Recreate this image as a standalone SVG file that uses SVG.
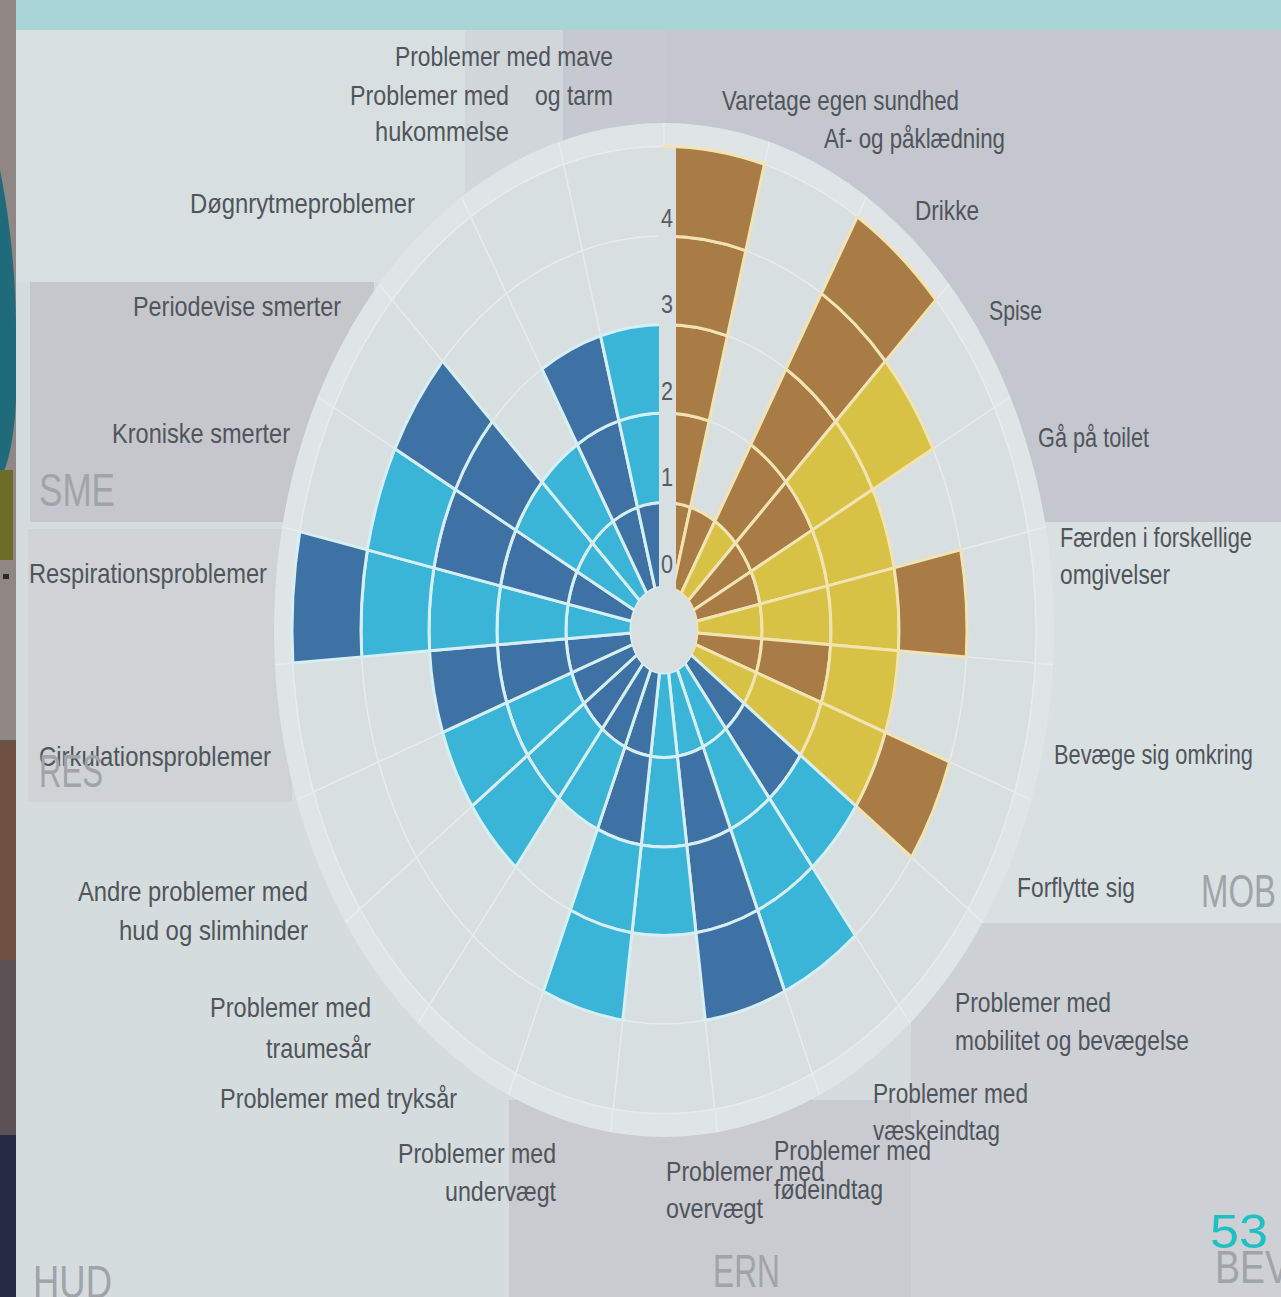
<svg xmlns="http://www.w3.org/2000/svg" width="1281" height="1297" viewBox="0 0 1281 1297">
<style>
  .lbl { font-family: "Liberation Sans", Arial, sans-serif; font-size: 28px; fill: #50555b; }
  .zone { font-family: "Liberation Sans", Arial, sans-serif; font-size: 47px; fill: #a0a4a9; }
  .ax { font-family: "Liberation Sans", Arial, sans-serif; font-size: 25px; fill: #575c62; }
  .B { fill: #a97b45; stroke: #f2e3b3; }
  .Y { fill: #d8c245; stroke: #f2e3b3; }
  .D { fill: #3e72a5; stroke: #d6eff5; }
  .L { fill: #3ab5d8; stroke: #d6eff5; }
  .grid { fill: none; stroke: #e7ecec; stroke-width: 1.5; }
</style>
<defs>
  <path id="c1" vector-effect="non-scaling-stroke" d="M0,-33 L0,-98 A98,98 0 0 1 26.44,-94.37 L8.9,-31.78 A33,33 0 0 0 0,-33Z"/>
  <path id="c2" vector-effect="non-scaling-stroke" d="M0,-98 L0,-167 A167,167 0 0 1 45.06,-160.81 L26.44,-94.37 A98,98 0 0 0 0,-98Z"/>
  <path id="c3" vector-effect="non-scaling-stroke" d="M0,-167 L0,-235 A235,235 0 0 1 63.4,-226.29 L45.06,-160.81 A167,167 0 0 0 0,-167Z"/>
  <path id="c4" vector-effect="non-scaling-stroke" d="M0,-235 L0,-303 A303,303 0 0 1 81.75,-291.76 L63.4,-226.29 A235,235 0 0 0 0,-235Z"/>
  <path id="c5" vector-effect="non-scaling-stroke" d="M0,-303 L0,-372 A372,372 0 0 1 100.36,-358.21 L81.75,-291.76 A303,303 0 0 0 0,-303Z"/>
  <line id="spk" x1="0" y1="-33" x2="0" y2="-390" vector-effect="non-scaling-stroke"/>
</defs>

<g id="background">
  <rect x="0" y="0" width="1281" height="1297" fill="#d5dcde"/>
  <rect x="16" y="0" width="1265" height="30" fill="#a8d3d7"/>
  <rect x="0" y="0" width="16" height="1297" fill="#8e8783"/>
  <path d="M0,170 C12,230 16,290 16,330 L16,400 C14,440 8,465 0,480 Z" fill="#1f6b7b"/>
  <rect x="0" y="470" width="13" height="90" fill="#6f6c2a"/>
  <rect x="3" y="574" width="6" height="5" fill="#2a2a2a"/>
  <rect x="0" y="740" width="16" height="220" fill="#6e5143"/>
  <rect x="0" y="960" width="16" height="175" fill="#5a5254"/>
  <rect x="0" y="1135" width="16" height="162" fill="#272a44"/>
</g>

<g id="zones">
  <rect x="16" y="30" width="449" height="252" fill="#d8dfe0"/>
  <rect x="465" y="30" width="98" height="400" fill="#d0d6d9"/>
  <rect x="563" y="30" width="103" height="400" fill="#c6cad0"/>
  <rect x="666" y="30" width="615" height="492" fill="#c4c7ce"/>
  <rect x="666" y="522" width="615" height="401" fill="#d9e0e2"/>
  <rect x="911" y="923" width="370" height="374" fill="#cdd0d5"/>
  <rect x="509" y="1100" width="402" height="197" fill="#c9cbd0"/>
  <rect x="30" y="282" width="344" height="240" fill="#c5c7cd"/>
  <rect x="28" y="529" width="264" height="273" fill="#cfd3d6"/>
</g>

<g id="chart" transform="translate(664 630) scale(1 1.3)">
  <circle r="390" fill="#dfe5e6"/>
  <circle r="372" fill="#d7dfe0"/>
  <g class="grid">
    <circle r="372" vector-effect="non-scaling-stroke"/>
    <circle r="303" vector-effect="non-scaling-stroke"/>
    <circle r="235" vector-effect="non-scaling-stroke"/>
    <circle r="167" vector-effect="non-scaling-stroke"/>
    <circle r="98" vector-effect="non-scaling-stroke"/>
    <use href="#spk" transform="rotate(0)"/>
    <use href="#spk" transform="rotate(15.652)"/>
    <use href="#spk" transform="rotate(31.304)"/>
    <use href="#spk" transform="rotate(46.957)"/>
    <use href="#spk" transform="rotate(62.609)"/>
    <use href="#spk" transform="rotate(78.261)"/>
    <use href="#spk" transform="rotate(93.913)"/>
    <use href="#spk" transform="rotate(109.565)"/>
    <use href="#spk" transform="rotate(125.217)"/>
    <use href="#spk" transform="rotate(140.870)"/>
    <use href="#spk" transform="rotate(156.522)"/>
    <use href="#spk" transform="rotate(172.174)"/>
    <use href="#spk" transform="rotate(187.826)"/>
    <use href="#spk" transform="rotate(203.478)"/>
    <use href="#spk" transform="rotate(219.130)"/>
    <use href="#spk" transform="rotate(234.783)"/>
    <use href="#spk" transform="rotate(250.435)"/>
    <use href="#spk" transform="rotate(266.087)"/>
    <use href="#spk" transform="rotate(281.739)"/>
    <use href="#spk" transform="rotate(297.391)"/>
    <use href="#spk" transform="rotate(313.043)"/>
    <use href="#spk" transform="rotate(328.696)"/>
    <use href="#spk" transform="rotate(344.348)"/>
  </g>
  <g id="bars" stroke-width="3" stroke-linejoin="round">
    <!-- S0 Varetage egen sundhed -->
    <use href="#c1" class="B"/><use href="#c2" class="B"/><use href="#c3" class="B"/><use href="#c4" class="B"/><use href="#c5" class="B"/>
    <!-- S1 Af- og paaklaedning -->
    <g transform="rotate(15.652)"><use href="#c1" class="B"/></g>
    <!-- S2 Drikke -->
    <g transform="rotate(31.304)"><use href="#c1" class="Y"/><use href="#c2" class="B"/><use href="#c3" class="B"/><use href="#c4" class="B"/><use href="#c5" class="B"/></g>
    <!-- S3 Spise -->
    <g transform="rotate(46.957)"><use href="#c1" class="B"/><use href="#c2" class="B"/><use href="#c3" class="Y"/><use href="#c4" class="Y"/></g>
    <!-- S4 Gaa paa toilet -->
    <g transform="rotate(62.609)"><use href="#c1" class="B"/><use href="#c2" class="Y"/><use href="#c3" class="Y"/></g>
    <!-- S5 Faerden -->
    <g transform="rotate(78.261)"><use href="#c1" class="Y"/><use href="#c2" class="Y"/><use href="#c3" class="Y"/><use href="#c4" class="B"/></g>
    <!-- S6 Bevaege sig omkring -->
    <g transform="rotate(93.913)"><use href="#c1" class="B"/><use href="#c2" class="B"/><use href="#c3" class="Y"/></g>
    <!-- S7 Forflytte sig -->
    <g transform="rotate(109.565)"><use href="#c1" class="Y"/><use href="#c2" class="Y"/><use href="#c3" class="Y"/><use href="#c4" class="B"/></g>
    <!-- S8 mobilitet -->
    <g transform="rotate(125.217)"><use href="#c1" class="D"/><use href="#c2" class="D"/><use href="#c3" class="L"/></g>
    <!-- S9 vaeskeindtag -->
    <g transform="rotate(140.870)"><use href="#c1" class="L"/><use href="#c2" class="L"/><use href="#c3" class="L"/><use href="#c4" class="L"/></g>
    <!-- S10 foedeindtag -->
    <g transform="rotate(156.522)"><use href="#c1" class="L"/><use href="#c2" class="D"/><use href="#c3" class="D"/><use href="#c4" class="D"/></g>
    <!-- S11 overvaegt -->
    <g transform="rotate(172.174)"><use href="#c1" class="L"/><use href="#c2" class="L"/><use href="#c3" class="L"/></g>
    <!-- S12 undervaegt -->
    <g transform="rotate(187.826)"><use href="#c1" class="D"/><use href="#c2" class="D"/><use href="#c3" class="L"/><use href="#c4" class="L"/></g>
    <!-- S13 tryksaar -->
    <g transform="rotate(203.478)"><use href="#c1" class="D"/><use href="#c2" class="L"/></g>
    <!-- S14 traumesaar -->
    <g transform="rotate(219.130)"><use href="#c1" class="D"/><use href="#c2" class="L"/><use href="#c3" class="L"/></g>
    <!-- S15 hud og slimhinder -->
    <g transform="rotate(234.783)"><use href="#c1" class="D"/><use href="#c2" class="L"/><use href="#c3" class="L"/></g>
    <!-- S16 Cirkulation -->
    <g transform="rotate(250.435)"><use href="#c1" class="D"/><use href="#c2" class="D"/><use href="#c3" class="D"/></g>
    <!-- S17 Respiration -->
    <g transform="rotate(266.087)"><use href="#c1" class="L"/><use href="#c2" class="L"/><use href="#c3" class="L"/><use href="#c4" class="L"/><use href="#c5" class="D"/></g>
    <!-- S18 Kroniske smerter -->
    <g transform="rotate(281.739)"><use href="#c1" class="D"/><use href="#c2" class="D"/><use href="#c3" class="D"/><use href="#c4" class="L"/></g>
    <!-- S19 Periodevise smerter -->
    <g transform="rotate(297.391)"><use href="#c1" class="L"/><use href="#c2" class="L"/><use href="#c3" class="D"/><use href="#c4" class="D"/></g>
    <!-- S20 Doegnrytme -->
    <g transform="rotate(313.043)"><use href="#c1" class="L"/><use href="#c2" class="L"/></g>
    <!-- S21 hukommelse -->
    <g transform="rotate(328.696)"><use href="#c1" class="D"/><use href="#c2" class="D"/><use href="#c3" class="D"/></g>
    <!-- S22 mave og tarm -->
    <g transform="rotate(344.348)"><use href="#c1" class="D"/><use href="#c2" class="L"/><use href="#c3" class="L"/></g>
  </g>
  <circle r="33" fill="#d7dfe0"/>
</g>

<g id="axis">
  <rect x="659" y="148" width="17" height="442" fill="#d7dfe0"/>
  <text class="ax" x="661" y="227" textLength="12" lengthAdjust="spacingAndGlyphs">4</text>
  <text class="ax" x="661" y="313" textLength="12" lengthAdjust="spacingAndGlyphs">3</text>
  <text class="ax" x="661" y="400" textLength="12" lengthAdjust="spacingAndGlyphs">2</text>
  <text class="ax" x="661" y="486" textLength="12" lengthAdjust="spacingAndGlyphs">1</text>
  <text class="ax" x="661" y="573" textLength="12" lengthAdjust="spacingAndGlyphs">0</text>
</g>

<g id="labels">
  <text class="lbl" x="395" y="66" textLength="218" lengthAdjust="spacingAndGlyphs">Problemer med mave</text>
  <text class="lbl" x="350" y="105" textLength="159" lengthAdjust="spacingAndGlyphs">Problemer med</text>
  <text class="lbl" x="535" y="105" textLength="78" lengthAdjust="spacingAndGlyphs">og tarm</text>
  <text class="lbl" x="375" y="141" textLength="134" lengthAdjust="spacingAndGlyphs">hukommelse</text>
  <text class="lbl" x="190" y="213" textLength="225" lengthAdjust="spacingAndGlyphs">Døgnrytmeproblemer</text>
  <text class="lbl" x="133" y="316" textLength="208" lengthAdjust="spacingAndGlyphs">Periodevise smerter</text>
  <text class="lbl" x="112" y="443" textLength="178" lengthAdjust="spacingAndGlyphs">Kroniske smerter</text>
  <text class="lbl" x="29" y="583" textLength="238" lengthAdjust="spacingAndGlyphs">Respirationsproblemer</text>
  <text class="lbl" x="39" y="766" textLength="232" lengthAdjust="spacingAndGlyphs">Cirkulationsproblemer</text>
  <text class="lbl" x="78" y="901" textLength="230" lengthAdjust="spacingAndGlyphs">Andre problemer med</text>
  <text class="lbl" x="119" y="940" textLength="189" lengthAdjust="spacingAndGlyphs">hud og slimhinder</text>
  <text class="lbl" x="210" y="1017" textLength="161" lengthAdjust="spacingAndGlyphs">Problemer med</text>
  <text class="lbl" x="266" y="1058" textLength="105" lengthAdjust="spacingAndGlyphs">traumesår</text>
  <text class="lbl" x="220" y="1108" textLength="237" lengthAdjust="spacingAndGlyphs">Problemer med tryksår</text>
  <text class="lbl" x="398" y="1163" textLength="158" lengthAdjust="spacingAndGlyphs">Problemer med</text>
  <text class="lbl" x="445" y="1201" textLength="111" lengthAdjust="spacingAndGlyphs">undervægt</text>
  <text class="lbl" x="666" y="1181" textLength="158" lengthAdjust="spacingAndGlyphs">Problemer med</text>
  <text class="lbl" x="666" y="1218" textLength="97" lengthAdjust="spacingAndGlyphs">overvægt</text>
  <text class="lbl" x="774" y="1160" textLength="157" lengthAdjust="spacingAndGlyphs">Problemer med</text>
  <text class="lbl" x="774" y="1199" textLength="109" lengthAdjust="spacingAndGlyphs">fødeindtag</text>
  <text class="lbl" x="873" y="1103" textLength="155" lengthAdjust="spacingAndGlyphs">Problemer med</text>
  <text class="lbl" x="873" y="1140" textLength="127" lengthAdjust="spacingAndGlyphs">væskeindtag</text>
  <text class="lbl" x="955" y="1012" textLength="156" lengthAdjust="spacingAndGlyphs">Problemer med</text>
  <text class="lbl" x="955" y="1050" textLength="234" lengthAdjust="spacingAndGlyphs">mobilitet og bevægelse</text>
  <text class="lbl" x="1017" y="897" textLength="118" lengthAdjust="spacingAndGlyphs">Forflytte sig</text>
  <text class="lbl" x="1054" y="764" textLength="199" lengthAdjust="spacingAndGlyphs">Bevæge sig omkring</text>
  <text class="lbl" x="1060" y="547" textLength="192" lengthAdjust="spacingAndGlyphs">Færden i forskellige</text>
  <text class="lbl" x="1060" y="584" textLength="110" lengthAdjust="spacingAndGlyphs">omgivelser</text>
  <text class="lbl" x="1038" y="447" textLength="111" lengthAdjust="spacingAndGlyphs">Gå på toilet</text>
  <text class="lbl" x="989" y="320" textLength="53" lengthAdjust="spacingAndGlyphs">Spise</text>
  <text class="lbl" x="915" y="220" textLength="64" lengthAdjust="spacingAndGlyphs">Drikke</text>
  <text class="lbl" x="824" y="148" textLength="181" lengthAdjust="spacingAndGlyphs">Af- og påklædning</text>
  <text class="lbl" x="722" y="110" textLength="237" lengthAdjust="spacingAndGlyphs">Varetage egen sundhed</text>
</g>

<g id="zone-labels">
  <text class="zone" x="39" y="506" textLength="76" lengthAdjust="spacingAndGlyphs">SME</text>
  <text class="zone" x="39" y="787" textLength="64" lengthAdjust="spacingAndGlyphs">RES</text>
  <text class="zone" x="1201" y="907" textLength="75" lengthAdjust="spacingAndGlyphs">MOB</text>
  <text class="zone" x="33" y="1298" textLength="79" lengthAdjust="spacingAndGlyphs">HUD</text>
  <text class="zone" x="713" y="1287" textLength="67" lengthAdjust="spacingAndGlyphs">ERN</text>
  <text class="zone" x="1215" y="1283" textLength="75" lengthAdjust="spacingAndGlyphs">BEV</text>
  <text x="1210" y="1248" font-family="Liberation Sans, Arial, sans-serif" font-size="48" fill="#1fc0c4" textLength="58" lengthAdjust="spacingAndGlyphs">53</text>
</g>
</svg>
